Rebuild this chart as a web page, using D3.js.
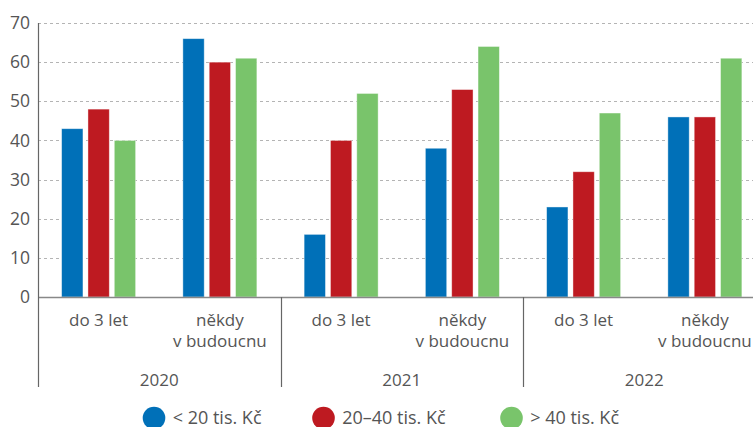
<!DOCTYPE html>
<html>
<head>
<meta charset="utf-8">
<script src="https://cdn.jsdelivr.net/npm/d3@7"></script>
<style>
  body { margin: 0; background: #fff; }
  svg { display: block; font-family: 'Open Sans', sans-serif; }
</style>
</head>
<body>
<div id="chart"></div>
<script>
const years = ['2020', '2021', '2022']
const categories = ['do 3 let', 'někdy v budoucnu']
const seriesNames = ['< 20 tis. Kč', '20–40 tis. Kč', '> 40 tis. Kč']
const colors = ['#0070b8', '#be1a21', '#79c46b']
// values per series, order: year x category
const low = [43, 66, 16, 38, 23, 46]
const mid = [48, 60, 40, 53, 32, 46]
const high = [40, 61, 52, 64, 47, 61]
const yTicks = [0, 10, 20, 30, 40, 50, 60, 70]

const width = 753
const height = 427
const margin = { top: 23, left: 38 }
const plotRight = 765.5
const plotBottom = 297

const groups = []
years.forEach(y => categories.forEach(c => groups.push(y + '|' + c)))
const data = groups.map((g, i) => ({ key: g, values: [low[i], mid[i], high[i]] }))

const svg = d3.select('#chart').append('svg')
  .attr('width', width).attr('height', height)

const x = d3.scaleBand().domain(groups).range([margin.left, plotRight])
const xInner = d3.scaleBand().domain([0, 1, 2])
  .range([x.bandwidth() / 2 - 37, x.bandwidth() / 2 + 37]).paddingInner(0.19)
const y = d3.scaleLinear().domain([0, 70]).range([plotBottom, margin.top])

// grid
svg.append('g').selectAll('line').data(yTicks.filter(d => d > 0)).join('line')
  .attr('x1', margin.left).attr('x2', width)
  .attr('y1', d => Math.round(y(d)) + 0.5).attr('y2', d => Math.round(y(d)) + 0.5)
  .attr('stroke', '#b4b4b4').attr('stroke-dasharray', '3,3')

// y labels
svg.append('g').selectAll('text').data(yTicks).join('text')
  .attr('x', 30).attr('y', d => y(d)).attr('dy', '0.35em')
  .attr('text-anchor', 'end').attr('fill', '#555').style('font-size', '17.5px')
  .text(d => d)

// bars
const gBars = svg.append('g').selectAll('g').data(data).join('g')
  .attr('transform', d => `translate(${x(d.key)},0)`)
gBars.selectAll('rect').data(d => d.values).join('rect')
  .attr('x', (d, i) => xInner(i)).attr('width', xInner.bandwidth())
  .attr('y', d => y(d)).attr('height', d => y(0) - y(d))
  .attr('fill', (d, i) => colors[i])
  .attr('stroke', '#fff').attr('stroke-opacity', 0.5).attr('stroke-width', 0.8)

// axes lines
svg.append('line').attr('x1', margin.left).attr('x2', width)
  .attr('y1', plotBottom + 0.5).attr('y2', plotBottom + 0.5)
  .attr('stroke', '#888').attr('stroke-width', 1.5)
svg.append('line').attr('x1', margin.left + 0.5).attr('x2', margin.left + 0.5)
  .attr('y1', margin.top).attr('y2', 387)
  .attr('stroke', '#666').attr('stroke-width', 1.2)
years.slice(1).forEach(yr => {
  const xx = Math.round(x(yr + '|' + categories[0])) + 0.5
  svg.append('line').attr('x1', xx).attr('x2', xx)
    .attr('y1', plotBottom).attr('y2', 387)
    .attr('stroke', '#666').attr('stroke-width', 1.2)
})

// category labels
const catLab = svg.append('g').selectAll('text').data(groups).join('text')
  .attr('x', d => x(d) + x.bandwidth() / 2)
  .attr('text-anchor', 'middle').attr('fill', '#555').style('font-size', '17px')
catLab.each(function (d) {
  const lines = d.split('|')[1] === 'do 3 let' ? ['do 3 let'] : ['někdy', 'v budoucnu']
  d3.select(this).selectAll('tspan').data(lines).join('tspan')
    .attr('x', x(d) + x.bandwidth() / 2)
    .attr('y', (l, i) => 326 + i * 21)
    .text(l => l)
})

// year labels
svg.append('g').selectAll('text').data(years).join('text')
  .attr('x', d => x(d + '|' + categories[0]) + x.bandwidth())
  .attr('y', 386).attr('text-anchor', 'middle')
  .attr('fill', '#555').style('font-size', '17px')
  .text(d => d)

// legend
const legendX = [154, 323.5, 511.5]
const leg = svg.append('g').selectAll('g').data(seriesNames).join('g')
  .attr('transform', (d, i) => `translate(${legendX[i]},418)`)
leg.append('circle').attr('r', 11.3).attr('fill', (d, i) => colors[i])
leg.append('text').attr('x', 18.7).attr('y', 5.5)
  .attr('fill', '#555').style('font-size', '18px').text(d => d)
</script>
</body>
</html>
